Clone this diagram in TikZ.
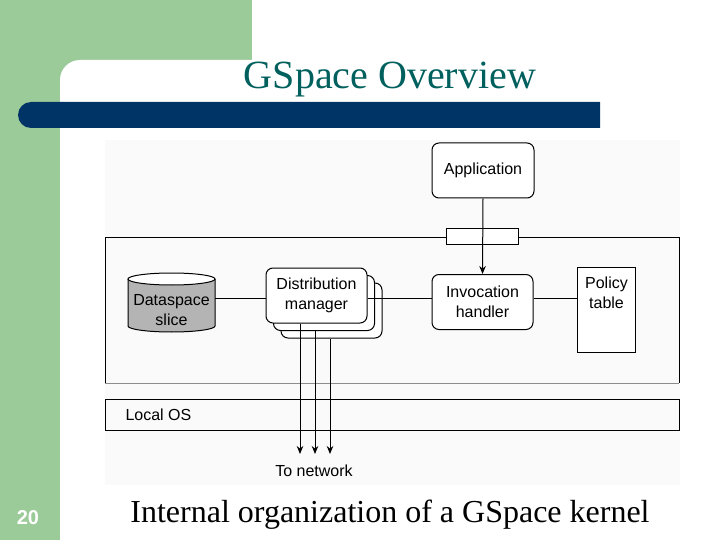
\documentclass[tikz,border=0pt]{standalone}
\usepackage{fontspec}
\setmainfont{Liberation Serif}
\newfontfamily\diagfont{Liberation Sans}
\usetikzlibrary{arrows.meta,calc}
\definecolor{slidegreen}{HTML}{9CCB9A}
\definecolor{barnavy}{HTML}{003466}
\definecolor{titleteal}{HTML}{00605E}
\definecolor{figbg}{HTML}{FAFAFA}
\definecolor{cylgray}{HTML}{B4B4B4}
\begin{document}
\begin{tikzpicture}[x=1pt,y=-1pt,
  diag/.style={font=\diagfont\fontsize{16}{20}\selectfont, align=center},
  rbox/.style={diag, draw, line width=1pt, rounded corners=7pt, fill=white, inner sep=0pt},
  conn/.style={line width=1pt},
  arr/.style={conn, -{Stealth[length=8pt,width=6.5pt]}}]
\useasboundingbox (0,0) rectangle (720,540);
% slide background
\fill[white] (0,0) rectangle (720,540);
\fill[slidegreen] (0,0) rectangle (252,80);
\fill[slidegreen] (0,0) rectangle (60,540);
\fill[white, rounded corners=20pt] (60,60) rectangle (760,580);
\fill[barnavy] (600,102) [rounded corners=13pt] -- (18,102) -- (18,128) [sharp corners] -- (600,128) -- cycle;
\node[text=titleteal, font=\fontsize{40}{44}\selectfont] (title) at (390,80) {GSpace Overview};
\node[text=white, font=\diagfont\bfseries\fontsize{20}{22}\selectfont] (pnum) at (28,518) {20};
\node[font=\fontsize{32}{34}\selectfont] (caption) at (390,515) {Internal organization of a GSpace kernel};
% figure background
\fill[figbg] (105,140) rectangle (680,485);
% kernel box
\draw[conn] (105,383) -- (105,237) -- (679,237) -- (679,383);
\draw[line width=1pt, black!45] (105,383) -- (679,383);
\node[draw, line width=1pt, fill=white, minimum width=72pt, minimum height=15pt, inner sep=0pt] (port) at (482,236.5) {};
% local OS
\node[draw, line width=1pt, minimum width=574pt, minimum height=31pt, inner sep=0pt, anchor=north west] (os) at (105,399) {};
\node[diag, anchor=west] (ostext) at (122,415) {Local OS};
% application and invocation handler
\node[rbox, minimum width=102pt, minimum height=55pt] (app) at (483,170.5) {Application};
\node[rbox, minimum width=101pt, minimum height=55pt] (inv) at (482.5,302) {Invocation\\handler};
% policy table
\node[draw, line width=1pt, fill=white, minimum width=58pt, minimum height=85pt, inner sep=0pt, anchor=north west] (pol) at (577,267) {};
\node[diag, anchor=north] (poltext) at ($(pol.north)+(0,6)$) {Policy\\table};
% distribution manager stack
\node[rbox, minimum width=101pt, minimum height=55pt] (dm3) at (331.5,310.5) {};
\node[rbox, minimum width=101pt, minimum height=55pt] (dm2) at (324,303) {};
\node[rbox, minimum width=101pt, minimum height=55pt] (dm) at (316.5,295.5) {Distribution\\manager};
% dataspace cylinder
\fill[cylgray] (128,279) -- (128,326) arc[start angle=180,end angle=360,x radius=43.5pt,y radius=6pt] -- (215,279) -- cycle;
\draw[conn] (128,279) -- (128,326) arc[start angle=180,end angle=360,x radius=43.5pt,y radius=6pt] -- (215,279);
\draw[conn, fill=white] (171.5,279) ellipse[x radius=43.5pt, y radius=6pt];
\node[diag, minimum width=87pt, minimum height=59pt, inner sep=0pt] (ds) at (171.5,310) {Dataspace\\slice};
% connectors
\coordinate (ly) at (0,298);
\draw[conn] (ds.east |- ly) -- (dm.west |- ly);
\draw[conn] (dm.east |- ly) -- (inv.west |- ly);
\draw[conn] (inv.east |- ly) -- (pol.west |- ly);
\draw[arr] (app.south) -- (inv.north);
\coordinate (n1) at (300,454);
\coordinate (n2) at (315,454);
\coordinate (n3) at (330,454);
\draw[arr] (dm.south -| n1) -- (n1);
\draw[arr] (dm2.south -| n2) -- (n2);
\draw[arr] (dm3.south -| n3) -- (n3);
\node[diag] (net) at (314,471) {To network};
\end{tikzpicture}
\end{document}
